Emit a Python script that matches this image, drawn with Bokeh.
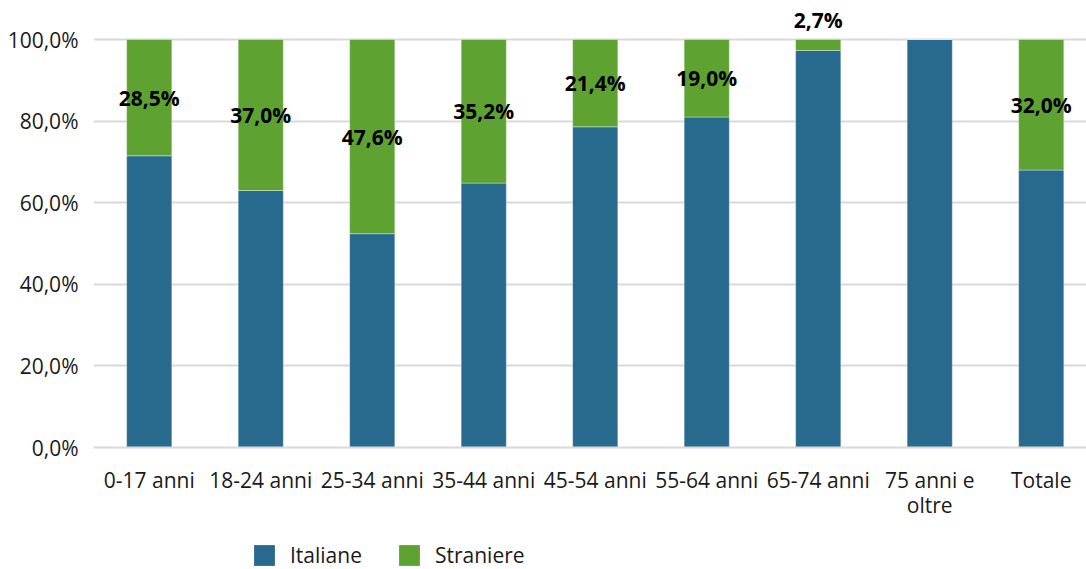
from bokeh.plotting import figure
from bokeh.layouts import column
from bokeh.models import (ColumnDataSource, Range1d, FixedTicker, Legend, LegendItem,
                          LabelSet)
from bokeh.core.properties import value
from bokeh.embed import file_html
from bokeh.resources import INLINE

# Age classes and share (%) of Italian / foreign women
categories = ["0-17 anni", "18-24 anni", "25-34 anni", "35-44 anni", "45-54 anni",
              "55-64 anni", "65-74 anni", "75 anni e\noltre", "Totale"]
straniere = [28.5, 37.0, 47.6, 35.2, 21.4, 19.0, 2.7, 0.0, 32.0]
italiane = [round(100 - s, 1) for s in straniere]
series = ["Italiane", "Straniere"]

BLUE = "#28698e"
GREEN = "#5ea232"
FONT = "Open Sans"
FS = "21px"

xs = [i + 0.5 for i in range(len(categories))]

# label position: centred on the foreign segment, above the bar when the segment is thin
label_y = [it + s / 2 if s >= 5 else 104.9 for it, s in zip(italiane, straniere)]
label_txt = [("%.1f%%" % s).replace(".", ",") if s > 0 else "" for s in straniere]

source = ColumnDataSource(dict(x=xs, italiane=italiane, straniere=straniere,
                               ly=label_y, lt=label_txt))

p = figure(width=1086, height=530, output_backend="svg", toolbar_location=None,
           x_range=Range1d(0, 8.906), y_range=Range1d(0, 109.56),
           min_border_left=93, min_border_right=0, min_border_top=0,
           min_border_bottom=83, outline_line_color=None)

rs = p.vbar_stack(["italiane", "straniere"], x="x", width=0.405, source=source,
                  fill_color=[BLUE, GREEN], line_color="#ffffff", line_alpha=0.45,
                  line_width=0.8)

labels = LabelSet(x="x", y="ly", text="lt", source=source, text_align="center",
                  text_baseline="middle", text_font=value(FONT), text_font_size=value(FS),
                  text_font_style="bold", text_color="#000000")
p.add_layout(labels)

# axes
p.xaxis.ticker = FixedTicker(ticks=xs)
p.xaxis.major_label_overrides = {x: c for x, c in zip(xs, categories)}
p.xaxis.major_tick_line_color = None
p.xaxis.minor_tick_line_color = None
p.xaxis.axis_line_color = "#d9d9d9"
p.xaxis.axis_line_width = 2
p.xaxis.major_label_text_font = FONT
p.xaxis.major_label_text_font_size = FS
p.xaxis.major_label_text_color = "#1a1a1a"
p.xaxis.major_label_text_line_height = 0.9
p.xaxis.major_label_standoff = 12

p.yaxis.ticker = FixedTicker(ticks=[0, 20, 40, 60, 80, 100])
p.yaxis.major_label_overrides = {v: ("%.1f%%" % v).replace(".", ",") for v in [0, 20, 40, 60, 80, 100]}
p.yaxis.major_tick_line_color = None
p.yaxis.minor_tick_line_color = None
p.yaxis.axis_line_color = None
p.yaxis.major_label_text_font = FONT
p.yaxis.major_label_text_font_size = FS
p.yaxis.major_label_text_color = "#1a1a1a"
p.yaxis.major_label_standoff = 9

p.xgrid.grid_line_color = None
p.ygrid.grid_line_color = "#d9d9d9"
p.ygrid.grid_line_width = 2
p.ygrid.ticker = FixedTicker(ticks=[0, 20, 40, 60, 80, 100])

# legend strip under the chart; its swatch renderers sit outside the visible range
leg = figure(width=1086, height=39, output_backend="svg", toolbar_location=None,
             x_range=Range1d(0, 1), y_range=Range1d(0, 1),
             min_border=0, outline_line_color=None)
leg.axis.visible = False
leg.grid.visible = False
swatches = [leg.vbar(x=[5], top=[1], width=0.1, color=c, line_color=None)
            for c in [BLUE, GREEN]]
legend = Legend(items=[LegendItem(label=s, renderers=[r]) for s, r in zip(series, swatches)],
                orientation="horizontal", location=(158, 0),
                glyph_width=26, glyph_height=26, label_height=26, label_standoff=13,
                spacing=34, padding=0, margin=0, border_line_color=None,
                background_fill_alpha=0,
                label_text_font=FONT, label_text_font_size=FS,
                label_text_color="#1a1a1a")
leg.add_layout(legend)

open("out.html", "w").write(file_html(column(p, leg, spacing=0), INLINE))
